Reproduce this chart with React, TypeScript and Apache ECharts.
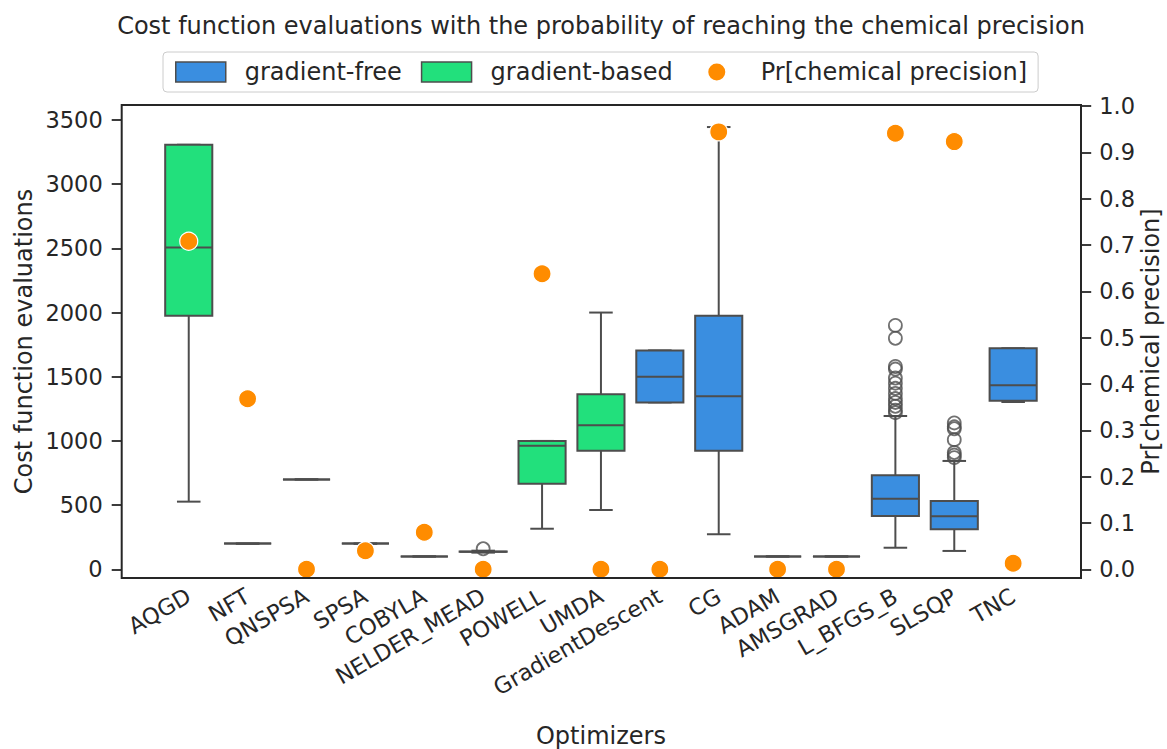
import React, { useEffect, useRef } from "react";
import * as echarts from "echarts";

// ---------- data ----------
const categories = [
  "AQGD", "NFT", "QNSPSA", "SPSA", "COBYLA", "NELDER_MEAD", "POWELL", "UMDA",
  "GradientDescent", "CG", "ADAM", "AMSGRAD", "L_BFGS_B", "SLSQP", "TNC",
];
// group of each optimizer (colour of its box)
const groups = [
  "gradient-based", "gradient-based", "gradient-based", "gradient-based", "gradient-based",
  "gradient-based", "gradient-based", "gradient-based",
  "gradient-free", "gradient-free", "gradient-free", "gradient-free", "gradient-free",
  "gradient-free", "gradient-free",
];
const whiskerLow = [527, 200, 700, 200, 100, 130, 316, 462, 1300, 273, 100, 100, 168, 143, 1303];
const quart1 = [1975, 200, 700, 200, 100, 136, 667, 924, 1300, 924, 100, 100, 415, 312, 1313];
const medians = [2506, 200, 700, 200, 100, 137, 963, 1122, 1500, 1348, 100, 100, 550, 413, 1433];
const quart3 = [3307, 200, 700, 200, 100, 139, 1000, 1363, 1705, 1975, 100, 100, 732, 532, 1722];
const whiskerHigh = [3307, 200, 700, 200, 100, 145, 1000, 2000, 1705, 3445, 100, 100, 1194, 844, 1722];

const outlierCats = [
  "NELDER_MEAD",
  "L_BFGS_B", "L_BFGS_B", "L_BFGS_B", "L_BFGS_B", "L_BFGS_B", "L_BFGS_B", "L_BFGS_B",
  "L_BFGS_B", "L_BFGS_B", "L_BFGS_B", "L_BFGS_B", "L_BFGS_B", "L_BFGS_B",
  "SLSQP", "SLSQP", "SLSQP", "SLSQP", "SLSQP", "SLSQP", "SLSQP",
];
const outlierVals = [
  160,
  1900, 1800, 1580, 1560, 1490, 1450, 1410, 1370, 1330, 1300, 1270, 1240, 1220,
  1140, 1110, 1095, 1010, 910, 890, 870,
];

const probability = [0.708, 0.368, 0, 0.04, 0.08, 0, 0.638, 0, 0, 0.944, 0, 0, 0.941, 0.923, 0.013];

const leftTicks = [0, 500, 1000, 1500, 2000, 2500, 3000, 3500];
const rightTicks = [0, 0.1, 0.2, 0.3, 0.4, 0.5, 0.6, 0.7, 0.8, 0.9, 1.0];

// ---------- styles ----------
const BLUE = "#3a8ee0";
const GREEN = "#22e07c";
const ORANGE = "#ff8c00";
const EDGE = "#4d4d4d";
const TEXT = "#262626";
const FONT = "DejaVu Sans";
// legend dot icon: a circle centred in a 50x20 box
const DOT_ICON =
  "path://M0,0L0,0M50,20L50,20M25,1.5A8.5,8.5,0,1,1,25,18.5A8.5,8.5,0,1,1,25,1.5Z";

function boxData(group: string) {
  const out: any[] = [];
  categories.forEach((_, i) => {
    if (groups[i] === group) {
      out.push([i, whiskerLow[i], quart1[i], medians[i], quart3[i], whiskerHigh[i]]);
    }
  });
  return out;
}

function makeRender(color: string) {
  return (params: any, api: any) => {
    const xi = api.value(0);
    const pMin = api.coord([xi, api.value(1)]);
    const pQ1 = api.coord([xi, api.value(2)]);
    const pMed = api.coord([xi, api.value(3)]);
    const pQ3 = api.coord([xi, api.value(4)]);
    const pMax = api.coord([xi, api.value(5)]);
    const bw = api.size([1, 0])[0] * 0.8;
    const cx = pMin[0];
    const half = bw / 2;
    const cap = bw / 4;
    const ls = { stroke: EDGE, lineWidth: 2, fill: "none" };
    return {
      type: "group",
      children: [
        { type: "line", shape: { x1: cx, y1: pQ1[1], x2: cx, y2: pMin[1] }, style: ls },
        { type: "line", shape: { x1: cx, y1: pQ3[1], x2: cx, y2: pMax[1] }, style: ls },
        { type: "line", shape: { x1: cx - cap, y1: pMin[1], x2: cx + cap, y2: pMin[1] }, style: ls },
        { type: "line", shape: { x1: cx - cap, y1: pMax[1], x2: cx + cap, y2: pMax[1] }, style: ls },
        {
          type: "rect",
          shape: { x: cx - half, y: pQ3[1], width: bw, height: pQ1[1] - pQ3[1] },
          style: { fill: color, stroke: EDGE, lineWidth: 2 },
        },
        { type: "line", shape: { x1: cx - half, y1: pMed[1], x2: cx + half, y2: pMed[1] }, style: ls },
      ],
    };
  };
}

const option: any = {
  animation: false,
  backgroundColor: "#ffffff",
  textStyle: { fontFamily: FONT, color: TEXT },
  title: {
    text: "Cost function evaluations with the probability of reaching the chemical precision",
    left: 601,
    textAlign: "center",
    top: 14,
    padding: 0,
    textStyle: { fontFamily: FONT, fontSize: 24, fontWeight: "normal", color: TEXT },
  },
  legend: {
    left: 163,
    top: 52,
    padding: [8, 11, 8, 12],
    borderColor: "#cccccc",
    borderWidth: 1,
    borderRadius: 4,
    itemWidth: 50,
    itemHeight: 20,
    itemGap: 19,
    textStyle: { fontFamily: FONT, fontSize: 24, color: TEXT, padding: [0, 0, 0, 14] },
    data: [
      { name: "gradient-free", icon: "rect", itemStyle: { color: BLUE, borderColor: EDGE, borderWidth: 1.5 } },
      { name: "gradient-based", icon: "rect", itemStyle: { color: GREEN, borderColor: EDGE, borderWidth: 1.5 } },
      { name: "Pr[chemical precision]", icon: DOT_ICON, itemStyle: { color: ORANGE, borderWidth: 0 } },
    ],
  },
  grid: {
    left: 159.3,
    right: 124.4,
    top: 105,
    bottom: 171,
    containLabel: false,
    outerBoundsMode: "none",
  },
  xAxis: {
    type: "category",
    data: categories,
    boundaryGap: true,
    name: "Optimizers",
    nameLocation: "middle",
    nameGap: 146,
    nameMoveOverlap: false,
    nameTextStyle: { fontFamily: FONT, fontSize: 24, color: TEXT },
    axisLine: { show: false },
    axisTick: { show: false },
    splitLine: { show: false },
    axisLabel: {
      interval: 0,
      rotate: 30,
      margin: 16,
      fontFamily: FONT,
      fontSize: 22.5,
      color: TEXT,
    },
  },
  yAxis: [
    {
      type: "value",
      position: "left",
      min: -67.8,
      max: 3616.8,
      offset: 37.6,
      name: "Cost function evaluations",
      nameLocation: "middle",
      nameGap: 86,
      nameMoveOverlap: false,
      nameTextStyle: { fontFamily: FONT, fontSize: 24, color: TEXT },
      axisLine: { show: false },
      splitLine: { show: false },
      axisTick: { show: true, length: 10, customValues: leftTicks, lineStyle: { color: TEXT, width: 1.8 } },
      axisLabel: {
        customValues: leftTicks,
        margin: 19,
        fontFamily: FONT,
        fontSize: 22.5,
        color: TEXT,
        formatter: (v: number) => String(Math.round(v)),
      },
    },
    {
      type: "value",
      position: "right",
      min: -0.0187,
      max: 1.002,
      offset: 38.6,
      name: "Pr[chemical precision]",
      nameLocation: "middle",
      nameGap: 58,
      nameMoveOverlap: false,
      nameTextStyle: { fontFamily: FONT, fontSize: 24, color: TEXT },
      axisLine: { show: false },
      splitLine: { show: false },
      axisTick: { show: true, length: 10, customValues: rightTicks, lineStyle: { color: TEXT, width: 1.8 } },
      axisLabel: {
        customValues: rightTicks,
        margin: 18,
        fontFamily: FONT,
        fontSize: 22.5,
        color: TEXT,
        formatter: (v: number) => v.toFixed(1),
      },
    },
  ],
  series: [
    {
      name: "gradient-free",
      type: "custom",
      renderItem: makeRender(BLUE),
      itemStyle: { color: BLUE },
      encode: { x: 0, y: [1, 2, 3, 4, 5] },
      data: boxData("gradient-free"),
      z: 2,
    },
    {
      name: "gradient-based",
      type: "custom",
      renderItem: makeRender(GREEN),
      itemStyle: { color: GREEN },
      encode: { x: 0, y: [1, 2, 3, 4, 5] },
      data: boxData("gradient-based"),
      z: 2,
    },
    {
      name: "outliers",
      type: "scatter",
      symbol: "circle",
      symbolSize: 13,
      itemStyle: { color: "rgba(255,255,255,0)", borderColor: EDGE, borderWidth: 1.8 },
      data: outlierCats.map((c, i) => [c, outlierVals[i]]),
      z: 3,
    },
    {
      name: "Pr[chemical precision]",
      type: "scatter",
      yAxisIndex: 1,
      symbol: "circle",
      symbolSize: 18,
      itemStyle: { color: ORANGE, borderColor: "#ffffff", borderWidth: 1.2, opacity: 1 },
      data: probability,
      z: 5,
    },
  ],
  graphic: [
    {
      type: "rect",
      z: 100,
      silent: true,
      shape: { x: 121.7, y: 105, width: 959.3, height: 473 },
      style: { fill: "none", stroke: TEXT, lineWidth: 2 },
    },
  ],
};

export default function App() {
  const ref = useRef<HTMLDivElement>(null);
  useEffect(() => {
    if (!ref.current) return;
    const chart = echarts.init(ref.current, null, { renderer: "svg" });
    chart.setOption(option);
    return () => chart.dispose();
  }, []);
  return (
    <div
      ref={ref}
      style={{ position: "fixed", left: 0, top: 0, width: 1167, height: 749, background: "#ffffff" }}
    />
  );
}
